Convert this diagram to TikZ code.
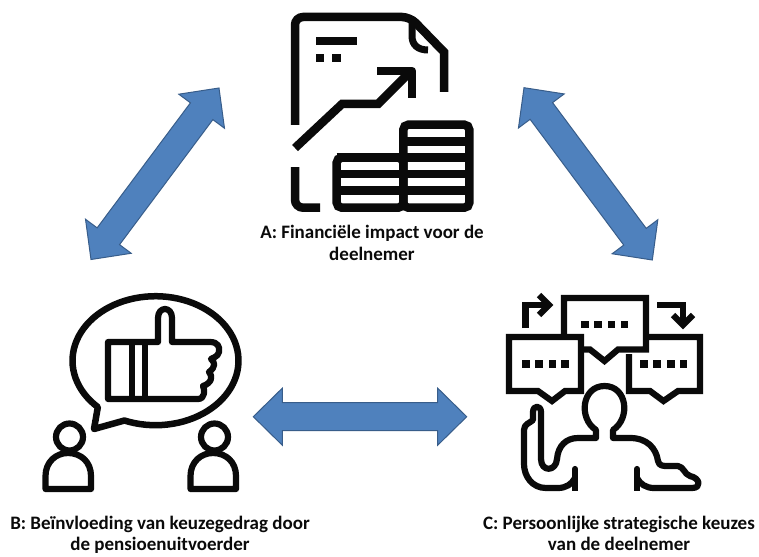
\documentclass[tikz,border=0pt]{standalone}
\usepackage{fontspec}
\setmainfont{Carlito}
\usetikzlibrary{calc}
\definecolor{arrowblue}{HTML}{4F81BD}
\definecolor{arrowedge}{HTML}{385D8A}
\definecolor{inkblack}{HTML}{0A0A0A}
\tikzset{
  blockarrow/.style={fill=arrowblue,draw=arrowedge,line width=1pt,line join=miter,
    to path={
      (\tikztostart)
      -- ($(\tikztostart)!29pt!(\tikztotarget)!28.5pt!90:(\tikztotarget)$)
      -- ($(\tikztostart)!29pt!(\tikztotarget)!14pt!90:(\tikztotarget)$)
      -- ($(\tikztotarget)!29pt!(\tikztostart)!14pt!-90:(\tikztostart)$)
      -- ($(\tikztotarget)!29pt!(\tikztostart)!28.5pt!-90:(\tikztostart)$)
      -- (\tikztotarget)
      -- ($(\tikztotarget)!29pt!(\tikztostart)!28.5pt!90:(\tikztostart)$)
      -- ($(\tikztotarget)!29pt!(\tikztostart)!14pt!90:(\tikztostart)$)
      -- ($(\tikztostart)!29pt!(\tikztotarget)!14pt!-90:(\tikztotarget)$)
      -- ($(\tikztostart)!29pt!(\tikztotarget)!28.5pt!-90:(\tikztotarget)$)
      -- cycle}},
  iconA/.style={draw=inkblack,line width=8.5pt,line cap=butt,line join=miter},
  iconB/.style={draw=inkblack,line width=6.2pt,line join=round,line cap=butt},
  iconC/.style={draw=inkblack,line width=6.2pt,line join=miter,line cap=butt},
  dotC/.style={fill=inkblack,minimum size=7.5pt,inner sep=0pt,outer sep=0pt},
  caption/.style={font=\fontsize{19}{21.5}\selectfont\bfseries,text=inkblack,align=center,inner sep=0pt}
}
\begin{document}
\begin{tikzpicture}[x=1pt,y=-1pt]
\useasboundingbox (0,0) rectangle (759,556);
\fill[white] (0,0) rectangle (759,556);

% ---- Icon A
\draw[iconA] (295,125) -- (295,30) [rounded corners=8pt] -- (295,17) -- (410,17) [sharp corners] -- (444,52) -- (444,92);
\draw[iconA,line width=7pt] (412,20) -- (412,36) .. controls (412,45) and (418,50) .. (428,50);
\fill[inkblack] (316,37.5) rectangle (357,45);
\fill[inkblack] (316,54) rectangle (324,62);
\fill[inkblack] (332,54) rectangle (341,62);
\draw[iconA] (295,148) -- (342,104) -- (378,104) -- (410,72);
\draw[iconA,line join=round] (377,71) -- (412,71) -- (412,98);
\draw[iconA] (295,167) [rounded corners=8pt] -- (295,207.7) [sharp corners] -- (320,207.7);
\draw[iconA,rounded corners=5pt] (403.3,124.7) rectangle (469.3,207.7);
\draw[iconA,rounded corners=5pt] (336.7,157.7) rectangle (403.3,207.7);
\draw[iconA] (403.3,141.7) -- (469.3,141.7);
\draw[iconA] (336.7,157.7) -- (469.3,157.7);
\draw[iconA] (336.7,174) -- (469.3,174);
\draw[iconA] (336.7,190.7) -- (469.3,190.7);

% ---- Icon B
\draw[iconB,line width=6.5pt] plot[domain=134:472,samples=90] ({155.5+83*cos(\x)},{360.7+64.5*sin(\x)})
  -- (94,429) -- cycle;
\draw[iconB] (108,342) -- (158,342) -- (158,318)
  .. controls (158,306) and (172,306) .. (172,318)
  -- (172,342) -- (210,342)
  .. controls (218,342) and (220,347) .. (219,352)
  .. controls (218,357) and (212,358) .. (211,359)
  .. controls (215,362) and (216,367) .. (209,372)
  .. controls (213,376) and (212,383) .. (203,386)
  .. controls (205,390) and (205,399) .. (198,399)
  -- (108,399) -- cycle;
\draw[iconB] (132,342) -- (132,399);
\draw[iconB] (145,342) -- (145,399);
\draw[iconB] (69.5,437) circle[radius=13.5];
\draw[iconB] (45.5,489) -- (45.5,476) .. controls (45.5,462) and (56,453) .. (68,453)
  .. controls (81,453) and (91,462) .. (91,476) -- (91,489) -- cycle;
\draw[iconB] (214.5,437) circle[radius=13.5];
\draw[iconB] (190.5,489) -- (190.5,476) .. controls (190.5,462) and (201,453) .. (213,453)
  .. controls (226,453) and (236,462) .. (236,476) -- (236,489) -- cycle;

% ---- Icon C
\draw[iconC] (564,337) -- (564,298) -- (646,298) -- (646,349.5) -- (618,349.5) -- (604.5,361) -- (590,349.5) -- (581,349.5);
\draw[iconC] (509,337) -- (581,337) -- (581,391) -- (565,391) -- (552,401) -- (538,391) -- (509,391) -- cycle;
\draw[iconC] (646,337) -- (700,337) -- (700,391) -- (678,391) -- (663.5,401) -- (650,391) -- (629,391) -- (629,354);
\node[dotC] (c1) at (585,324.5) {};
\node[dotC] (c2) at (598,324.5) {};
\node[dotC] (c3) at (611.5,324.5) {};
\node[dotC] (c4) at (624.5,324.5) {};
\node[dotC] (l1) at (526,364) {};
\node[dotC] (l2) at (539,364) {};
\node[dotC] (l3) at (552.5,364) {};
\node[dotC] (l4) at (565,364) {};
\node[dotC] (r1) at (644,364) {};
\node[dotC] (r2) at (657,364) {};
\node[dotC] (r3) at (671,364) {};
\node[dotC] (r4) at (683.5,364) {};
\draw[iconC] (525.5,328) -- (525.5,305) -- (547,305);
\draw[iconC] (539,295) -- (549,305) -- (539,315);
\draw[iconC] (657,305) -- (683,305) -- (683,323);
\draw[iconC] (673,315) -- (683,325) -- (693,315);
\draw[iconC,line join=round] (575,478) .. controls (572,484) and (566,488) .. (558,488)
  -- (546,488) .. controls (532,488) and (524,476) .. (524,464) -- (524,430)
  .. controls (524,424) and (530,423) .. (533,420) -- (533,412)
  .. controls (533,405) and (541,405) .. (541,412) -- (541,459)
  .. controls (541,472) and (556,472) .. (557,459)
  .. controls (558,446) and (566,438) .. (578,438) -- (596,438) -- (596,430)
  .. controls (578,418) and (582,386) .. (604.5,386)
  .. controls (627,386) and (631,418) .. (613,430) -- (613,438) -- (630,438)
  .. controls (647,438) and (656,448) .. (658,461)
  .. controls (659,466) and (663,466) .. (668,466)
  -- (678,466) .. controls (684,467) and (684,474) .. (690,476)
  .. controls (700,478) and (702,488) .. (692,488)
  -- (654,488) .. controls (646,488) and (640,484) .. (637,478);
\draw[iconC,line cap=round] (575,469) -- (575,487);
\draw[iconC,line cap=round] (637,469) -- (637,487);
\fill[inkblack] (572,487) rectangle (578,490.5);
\fill[inkblack] (634,487) rectangle (640,490.5);

% ---- Connector end points and arrows
\coordinate (arrowABa) at (219,88);
\coordinate (arrowABb) at (91,259.5);
\coordinate (arrowACa) at (524,87.7);
\coordinate (arrowACb) at (652.3,260);
\coordinate (arrowBCa) at (253.3,416.7);
\coordinate (arrowBCb) at (466.7,416.7);
\draw[blockarrow] (arrowABa) to (arrowABb);
\draw[blockarrow] (arrowACa) to (arrowACb);
\draw[blockarrow] (arrowBCa) to (arrowBCb);

% ---- Captions
\node[caption] (capA) at (372,243) {A: Financiële impact voor de\\deelnemer};
\node[caption] (capB) at (160,535) {B: Beïnvloeding van keuzegedrag door\\de pensioenuitvoerder};
\node[caption] (capC) at (619,533.5) {C: Persoonlijke strategische keuzes\\van de deelnemer};
\end{tikzpicture}
\end{document}
